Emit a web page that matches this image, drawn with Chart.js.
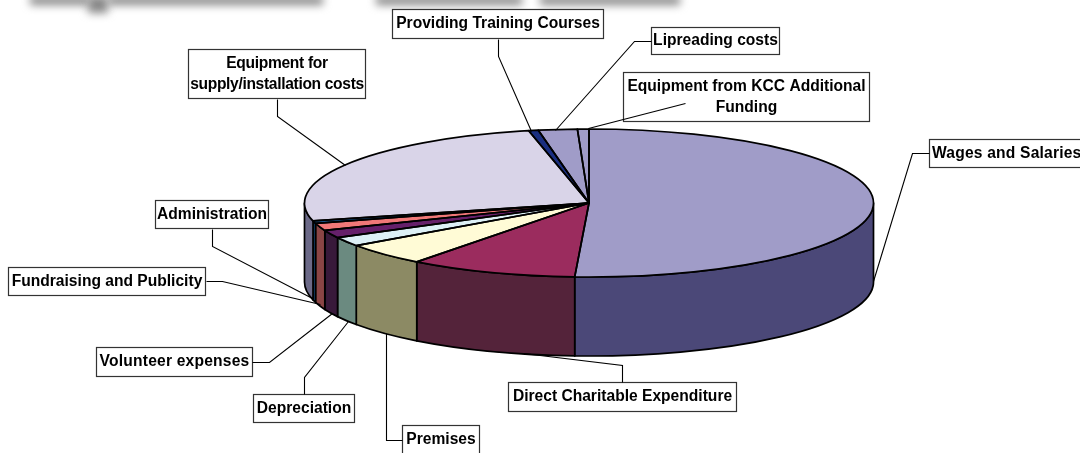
<!DOCTYPE html>
<html><head><meta charset="utf-8">
<style>html,body{margin:0;padding:0;background:#fff;overflow:hidden}#w{width:1080px;height:453px;position:relative}</style>
<script src="https://cdn.jsdelivr.net/npm/chart.js@4"></script>
</head><body><div id="w"><canvas id="c" width="1080" height="453"></canvas></div>
<script>
const categories = ["Wages and Salaries","Direct Charitable Expenditure","Premises","Depreciation","Volunteer expenses","Fundraising and Publicity","Administration","Equipment for supply/installation costs","Providing Training Courses","Lipreading costs","Equipment from KCC Additional Funding"];
const shares = [50.8,9.55,4.9,2.0,1.7,1.6,0.55,25.5,0.55,2.2,0.65];
const topColours = ["#A09CC8","#9B2C5E","#FFFBD6","#DDF0F6","#66206A","#F07878","#1F72B8","#D9D4E8","#1A2F80","#A09CC8","#A09CC8"];
const wallColours = ["#4B4878","#54233A","#8C8A64","#6B8A80","#38193A","#8A4545","#134A78","#6C6A88","#0E1A48","#4B4878","#4B4878"];

const pie3d = {cx:589, cy:203, rx:284.5, ry:74, depth:79};
const callouts = [
 {box:[929,139,170,29], left:true, track:'0.2px', lines:["Wages and Salaries"], path:[[929,153],[912,153],[873,281]]},
 {box:[508,382,229,30], lines:["Direct Charitable Expenditure"], path:[[622,382],[622,365],[523,353]]},
 {box:[402,425,78,32], lines:["Premises"], textY:440, path:[[402,440],[386,440],[386,333]]},
 {box:[253,394,102,29], lines:["Depreciation"], path:[[304,394],[304,377],[348,321]]},
 {box:[96,347,157,30], track:'0.2px', lines:["Volunteer expenses"], path:[[252,362],[269,362],[332,313]]},
 {box:[8,267,198,29], lines:["Fundraising and Publicity"], path:[[206,281],[222,281],[320,304]]},
 {box:[155,200,114,29], lines:["Administration"], path:[[212,229],[212,246],[312,298]]},
 {box:[188,49,178,50], track:'-0.33px', lines:["Equipment for","supply/installation costs"], path:[[277,99],[277,116],[345,165]]},
 {box:[392,9,212,30], lines:["Providing Training Courses"], path:[[498,39],[498,56],[531,131]]},
 {box:[651,27,129,28], lines:["Lipreading costs"], path:[[651,41],[634,41],[555,130]]},
 {box:[623,72,247,50], lines:["Equipment from KCC Additional","Funding"], path:[[685,103],[588,128]]},
];
const smudges = [[30,-4,60,9],[88,-4,20,17],[108,-4,215,9],[376,-4,146,9],[540,-4,140,9]];

const extruded = {
 id:'extruded',
 beforeDatasetDraw(chart){
  const c = chart.ctx, arcs = chart.getDatasetMeta(0).data, p = pie3d;
  c.save();
  c.lineWidth = 1.7; c.strokeStyle = '#000'; c.lineJoin='round';
  arcs.forEach((a,i)=>{
   const s = Math.max(a.startAngle,0), e = Math.min(a.endAngle,Math.PI);
   if(e<=s) return;
   c.beginPath();
   c.ellipse(p.cx,p.cy,p.rx,p.ry,0,s,e);
   c.ellipse(p.cx,p.cy+p.depth,p.rx,p.ry,0,e,s,true);
   c.closePath();
   c.fillStyle = wallColours[i];
   c.fill(); c.stroke();
  });
  c.restore();
  const a0 = arcs[0];
  c.save();
  c.translate(p.cx,p.cy);
  c.scale(p.rx/a0.outerRadius,p.ry/a0.outerRadius);
  c.translate(-a0.x,-a0.y);
 },
 afterDatasetDraw(chart){
  const c = chart.ctx, arcs = chart.getDatasetMeta(0).data, p = pie3d;
  c.restore();
  c.save();
  c.lineWidth = 1.7; c.strokeStyle = '#000'; c.lineJoin='round';
  arcs.forEach(a=>{
   c.beginPath();
   c.moveTo(p.cx,p.cy);
   c.ellipse(p.cx,p.cy,p.rx,p.ry,0,a.startAngle,a.endAngle);
   c.closePath();
   c.stroke();
  });
  c.restore();
 },
 afterDraw(chart){
  const c = chart.ctx;
  c.save();
  // smudged heading cut off by the top of the picture
  c.filter='blur(4px)'; c.fillStyle='#888';
  smudges.forEach(r=>c.fillRect(...r));
  c.filter='none';
  c.font='bold 15.6px "Liberation Sans", Arial, sans-serif';
  c.textAlign='center'; c.textBaseline='middle';
  callouts.forEach(k=>{
   const [x,y,w,h]=k.box;
   c.fillStyle='#fff'; c.fillRect(x,y,w,h);
   c.strokeStyle='#333'; c.lineWidth=1.2;
   c.strokeRect(x+.5,y+.5,w-1,h-1);
   c.fillStyle='#000';
   const lh=21, y0=(k.textY||y+h/2)-(k.lines.length-1)*lh/2;
   c.filter='blur(0.35px)';
   c.letterSpacing=k.track||'0px';
   k.lines.forEach((t,i)=>{
     if(k.left){c.textAlign='left';c.fillText(t,x+3,y0);c.textAlign='center';}
     else c.fillText(t,x+w/2,y0+i*lh);
   });
   c.letterSpacing='0px';
   c.filter='none';
   c.strokeStyle='#000'; c.lineWidth=1.1;
   c.beginPath();
   k.path.forEach((q,i)=>i?c.lineTo(q[0]+.5,q[1]+.5):c.moveTo(q[0]+.5,q[1]+.5));
   c.stroke();
  });
  c.restore();
 }
};

new Chart(document.getElementById('c'),{
 type:'pie',
 data:{labels:categories,datasets:[{data:shares,backgroundColor:topColours,borderWidth:0}]},
 options:{responsive:false,animation:false,rotation:0,
  plugins:{legend:{display:false},tooltip:{enabled:false},title:{display:false}},
  layout:{padding:0}},
 plugins:[extruded]
});
</script></body></html>
